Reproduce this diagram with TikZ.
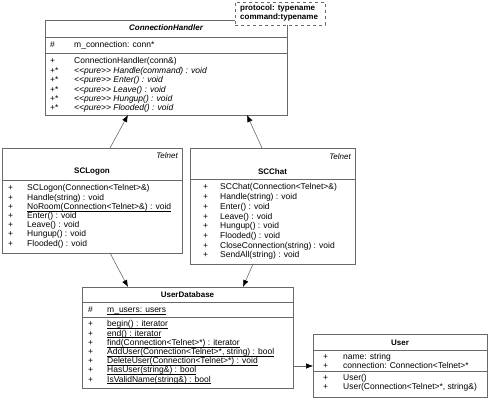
\documentclass[tikz,border=0pt]{standalone}
\usepackage{fontspec}
\setmainfont{Liberation Sans}
\usetikzlibrary{arrows.meta,positioning}
\definecolor{lnc}{RGB}{105,105,105}
\newcommand{\ulin}[1]{\underline{\smash{#1}}}

\tikzset{
  cls/.style={draw=lnc, fill=white, line width=0.6pt, anchor=north west, inner sep=0pt, outer sep=0pt},
  tpl/.style={cls, dashed},
  ttl/.style={font=\fontsize{8}{9}\selectfont\bfseries, text height=6pt, text depth=0pt, inner sep=0pt},
  mem/.style={font=\fontsize{8.5}{9}\selectfont, anchor=west, text height=6pt, text depth=0pt, inner sep=0pt},
  sepline/.style={draw=lnc, line width=0.6pt},
  link/.style={draw=lnc, line width=0.6pt, -{Latex[length=7pt,width=5.5pt,fill=black,color=black]}}
}

\begin{document}
\begin{tikzpicture}[x=1pt,y=-1pt]
  \useasboundingbox (0,0) rectangle (491,411);

  % ConnectionHandler
  \node[cls, minimum width=242pt, minimum height=95pt] (ch) at (45,20) {};
  \node[ttl, font=\fontsize{8}{9}\selectfont\bfseries\itshape] (ch-t) at (166,28) {ConnectionHandler};
  \draw[sepline] (ch.west |- 0,37) -- (ch.east |- 0,37);
  \node[mem] (ch-av) at (50,45) {\#};
  \node[mem] (ch-a) at (74,45) {m\_connection: conn*};
  \draw[sepline] (ch.west |- 0,53) -- (ch.east |- 0,53);
  \foreach \v/\t [count=\i from 0] in {+/{ConnectionHandler(conn\&)},
      +*/{\itshape <{}<pure>{}> Handle(command) : void}, +*/{\itshape <{}<pure>{}> Enter() : void},
      +*/{\itshape <{}<pure>{}> Leave() : void}, +*/{\itshape <{}<pure>{}> Hungup() : void},
      +*/{\itshape <{}<pure>{}> Flooded() : void}}
    {\node[mem] (ch-v\i) at (50,61+9.4*\i) {\v}; \node[mem] (ch-m\i) at (74,61+9.4*\i) {\t};}

  % template parameters
  \node[tpl, minimum width=90pt, minimum height=23pt] (tp) at (235,2) {};
  \node[mem, font=\fontsize{8}{9}\selectfont\bfseries] (tp-a) at (240,8) {protocol: typename};
  \node[mem, font=\fontsize{8}{9}\selectfont\bfseries] (tp-b) at (240,17) {command:typename};

  % SCLogon
  \node[cls, minimum width=180pt, minimum height=105pt] (lg) at (2,148) {};
  \node[mem, anchor=east, font=\fontsize{8}{9}\selectfont\itshape] (lg-s) at (178,156) {Telnet};
  \node[ttl] (lg-t) at (92,171) {SCLogon};
  \draw[sepline] (lg.west |- 0,180) -- (lg.east |- 0,180);
  \foreach \t [count=\i from 0] in {{SCLogon(Connection<Telnet>\&)}, {Handle(string) : void},
      {\ulin{NoRoom(Connection<Telnet>\&) : void}}, {Enter() : void}, {Leave() : void},
      {Hungup() : void}, {Flooded() : void}}
    {\node[mem] (lg-v\i) at (8,188+9.2*\i) {+}; \node[mem] (lg-m\i) at (27,188+9.2*\i) {\t};}

  % SCChat
  \node[cls, minimum width=165pt, minimum height=116pt] (ct) at (190,148) {};
  \node[mem, anchor=east, font=\fontsize{8}{9}\selectfont\itshape] (ct-s) at (351,157) {Telnet};
  \node[ttl] (ct-t) at (272.5,172) {SCChat};
  \draw[sepline] (ct.west |- 0,179) -- (ct.east |- 0,179);
  \foreach \t [count=\i from 0] in {{SCChat(Connection<Telnet>\&)}, {Handle(string) : void},
      {Enter() : void}, {Leave() : void}, {Hungup() : void}, {Flooded() : void},
      {CloseConnection(string) : void}, {SendAll(string) : void}}
    {\node[mem] (ct-v\i) at (203,187+9.7*\i) {+}; \node[mem] (ct-m\i) at (220,187+9.7*\i) {\t};}

  % UserDatabase
  \node[cls, minimum width=211pt, minimum height=101pt] (db) at (82,287) {};
  \node[ttl] (db-t) at (187.5,295) {UserDatabase};
  \draw[sepline] (db.west |- 0,302) -- (db.east |- 0,302);
  \node[mem] (db-av) at (88,310) {\#};
  \node[mem] (db-a) at (107,310) {\ulin{m\_users: users}};
  \draw[sepline] (db.west |- 0,317) -- (db.east |- 0,317);
  \foreach \t [count=\i from 0] in {{begin() : iterator}, {end() : iterator},
      {find(Connection<Telnet>*) : iterator}, {AddUser(Connection<Telnet>*, string) : bool},
      {DeleteUser(Connection<Telnet>*) : void}, {HasUser(string\&) : bool},
      {IsValidName(string\&) : bool}}
    {\node[mem] (db-v\i) at (88,324+9.2*\i) {+}; \node[mem] (db-m\i) at (107,324+9.2*\i) {\ulin{\t}};}

  % User
  \node[cls, minimum width=174pt, minimum height=63pt] (us) at (313,334) {};
  \node[ttl] (us-t) at (400,343) {User};
  \draw[sepline] (us.west |- 0,350) -- (us.east |- 0,350);
  \draw[sepline] (us.west |- 0,371) -- (us.east |- 0,371);
  \foreach \y/\t [count=\i from 0] in {357/{name: string}, 366/{connection: Connection<Telnet>*},
      378/{User()}, 387/{User(Connection<Telnet>*, string\&)}}
    {\node[mem] (us-v\i) at (323,\y) {+}; \node[mem] (us-m\i) at (343,\y) {\t};}

  % connectors
  \draw[link] (lg.north -| 110,0) -- (ch.south -| 128,0);
  \draw[link] (ct.north -| 262,0) -- (ch.south -| 247,0);
  \draw[link] (lg.south -| 110,0) -- (db.north -| 128,0);
  \draw[link] (ct.south -| 253,0) -- (db.north -| 243,0);
  \draw[link] (db.east |- 0,366) -- (us.west |- 0,366);
\end{tikzpicture}
\end{document}
